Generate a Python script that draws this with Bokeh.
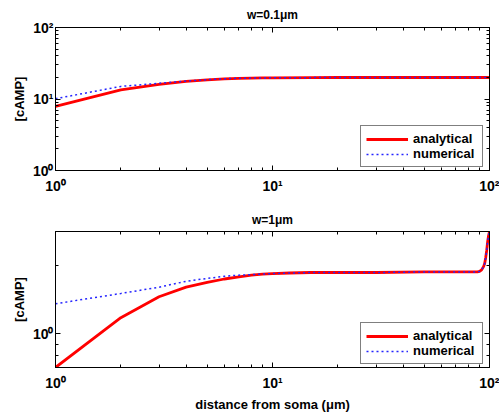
from bokeh.plotting import figure
from bokeh.models import LogAxis, FixedTicker, Legend, LegendItem, Range1d, CustomJSTickFormatter
from bokeh.layouts import column
from bokeh.embed import file_html
from bokeh.resources import INLINE

# ---- data ----
top_x = [1, 2, 3, 4, 5, 6, 7, 8, 9, 10, 15, 20, 30, 50, 100]
top_analytical = [7.9, 13.4, 16.0, 17.6, 18.5, 19.1, 19.4, 19.6, 19.7, 19.8, 19.9, 20.0, 20.0, 20.0, 20.0]
top_numerical = [10.1, 15.0, 16.6, 17.8, 18.6, 19.2, 19.5, 19.6, 19.7, 19.8, 19.9, 20.0, 20.0, 20.0, 20.0]

bot_x = [1, 2, 3, 4, 5, 6, 7, 8, 9, 10, 12, 15, 20, 30, 50, 80, 88, 90, 92, 94, 95, 96, 97, 98, 99, 100]
bot_analytical = [0.71, 1.18, 1.46, 1.61, 1.69, 1.75, 1.79, 1.82, 1.84, 1.85, 1.86, 1.87, 1.87, 1.87, 1.88,
                  1.88, 1.88, 1.89, 1.92, 1.99, 2.05, 2.17, 2.33, 2.55, 2.72, 2.84]
bot_numerical = [1.36, 1.51, 1.61, 1.71, 1.76, 1.80, 1.82, 1.83, 1.84, 1.85, 1.86, 1.87, 1.87, 1.87, 1.88,
                 1.88, 1.88, 1.89, 1.92, 1.99, 2.05, 2.17, 2.33, 2.55, 2.72, 2.84]

titles = ["w=0.1\u03bcm", "w=1\u03bcm"]
ylabel = "[cAMP]"
xlabel = "distance from soma (\u03bcm)"
series_names = ["analytical", "numerical"]
x_major = [1, 10, 100]
x_minor = [2, 3, 4, 5, 6, 7, 8, 9, 20, 30, 40, 50, 60, 70, 80, 90]
top_y_major = [1, 10, 100]
top_y_minor = x_minor
bot_y_major = [1]
bot_y_minor = [0.8, 0.9, 2]

FONT = "Liberation Sans"

LABEL_JS = """
const e = Math.round(Math.log10(tick));
const sup = {'0': '\\u2070', '1': '\\u00b9', '2': '\\u00b2', '-': '\\u207b'};
return '10' + String(e).split('').map(c => sup[c]).join('');
"""


def style_axis(ax, labels=True):
    ax.axis_line_color = "black"
    ax.axis_line_width = 1
    ax.major_tick_in = 5
    ax.major_tick_out = 0
    ax.minor_tick_in = 3
    ax.minor_tick_out = 0
    ax.major_tick_line_color = "black"
    ax.minor_tick_line_color = "black"
    if labels:
        ax.formatter = CustomJSTickFormatter(code=LABEL_JS)
        ax.major_label_text_font = FONT
        ax.major_label_text_font_style = "bold"
        ax.major_label_text_font_size = "14px"
        ax.major_label_text_color = "black"
        ax.axis_label_text_font = FONT
        ax.axis_label_text_font_style = "bold"
        ax.axis_label_text_font_size = "13px"
        ax.axis_label_text_color = "black"
    else:
        ax.formatter = CustomJSTickFormatter(code="return '';")
        ax.major_label_standoff = 0


def make_panel(title, xs, ana, num, yr, ymaj, ymin, height, b_top, b_bottom, title_standoff, show_xlabel):
    p = figure(width=499, height=height, x_axis_type="log", y_axis_type="log",
               x_range=Range1d(1, 100), y_range=Range1d(*yr),
               output_backend="svg", toolbar_location=None,
               min_border_left=55, min_border_right=10,
               min_border_top=b_top, min_border_bottom=b_bottom)
    p.background_fill_color = "white"
    p.border_fill_color = "white"
    p.outline_line_color = "black"
    p.grid.visible = False

    p.title.text = title
    p.title.align = "center"
    p.title.text_font = FONT
    p.title.text_font_style = "bold"
    p.title.text_font_size = "12px"
    p.title.text_color = "black"
    p.title.standoff = title_standoff

    p.xaxis.ticker = FixedTicker(ticks=x_major, minor_ticks=x_minor)
    p.yaxis.ticker = FixedTicker(ticks=ymaj, minor_ticks=ymin)
    for ax in p.xaxis:
        style_axis(ax)
        ax.major_label_standoff = 7
        if show_xlabel:
            ax.axis_label = xlabel
            ax.axis_label_standoff = 3
    for ax in p.yaxis:
        style_axis(ax)
        ax.major_label_standoff = 2
        ax.axis_label = ylabel
        ax.axis_label_standoff = 3

    top_ax = LogAxis(ticker=FixedTicker(ticks=x_major, minor_ticks=x_minor))
    style_axis(top_ax, labels=False)
    p.add_layout(top_ax, "above")
    right_ax = LogAxis(ticker=FixedTicker(ticks=ymaj, minor_ticks=ymin))
    style_axis(right_ax, labels=False)
    p.add_layout(right_ax, "right")

    r1 = p.line(xs, ana, line_color="red", line_width=2.8)
    r2 = p.line(xs, num, line_color="#2424ff", line_width=1.5, line_dash="2 3")

    leg = Legend(items=[LegendItem(label=series_names[0], renderers=[r1]),
                        LegendItem(label=series_names[1], renderers=[r2])],
                 location=(305, 3), margin=0, padding=5, spacing=0,
                 glyph_width=42, glyph_height=14, label_height=14,
                 label_width=64, label_standoff=5,
                 label_text_font=FONT, label_text_font_style="bold",
                 label_text_font_size="13px", label_text_color="black",
                 border_line_color="black", border_line_width=1,
                 background_fill_color="white", background_fill_alpha=1.0)
    p.add_layout(leg, "center")
    return p


p1 = make_panel(titles[0], top_x, top_analytical, top_numerical, (1, 100), top_y_major, top_y_minor,
                200, 27, 30, 11, False)
p2 = make_panel(titles[1], bot_x, bot_analytical, bot_numerical, (0.71, 2.84), bot_y_major, bot_y_minor,
                214, 31, 45, 10, True)

layout = column(p1, p2)
open("out.html", "w").write(file_html(layout, INLINE))
